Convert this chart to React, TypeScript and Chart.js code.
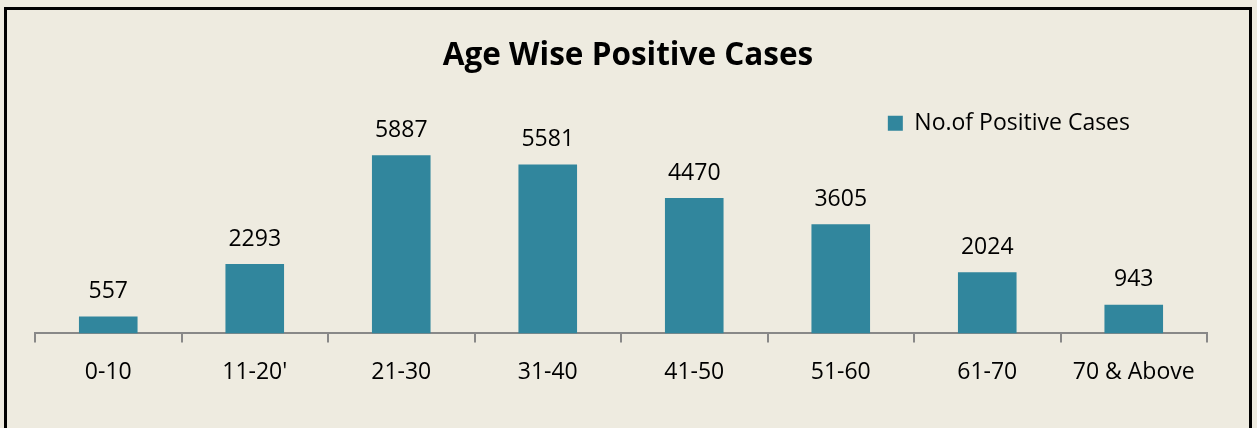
import React, { useEffect, useRef } from "react";
import { Chart, registerables } from "chart.js";

Chart.register(...registerables);

const categories = ["0-10", "11-20'", "21-30", "31-40", "41-50", "51-60", "61-70", "70 & Above"];
const positiveCases = [557, 2293, 5887, 5581, 4470, 3605, 2024, 943];
const seriesName = "No.of Positive Cases";
const chartTitle = "Age Wise Positive Cases";

const BG = "#EEEBE0";
const BAR = "#31869D";
const FONT = "'Open Sans', sans-serif";

const valueLabels = {
  id: "valueLabels",
  afterDatasetsDraw(chart: any) {
    const ctx = chart.ctx;
    const meta = chart.getDatasetMeta(0);
    ctx.save();
    ctx.font = `23px ${FONT}`;
    ctx.fillStyle = "#000";
    ctx.textAlign = "center";
    ctx.textBaseline = "middle";
    meta.data.forEach((bar: any, i: number) => {
      ctx.fillText(String(chart.data.datasets[0].data[i]), bar.x, bar.y - 25);
    });
    ctx.restore();
  },
};

const boxShift = {
  id: "boxShift",
  afterLayout(chart: any) {
    if (chart.legend) {
      chart.legend.right -= 67;
    }
    if (chart.titleBlock) {
      chart.titleBlock.left += 7;
      chart.titleBlock.right += 7;
    }
  },
};

export default function App() {
  const ref = useRef<HTMLCanvasElement>(null);
  useEffect(() => {
    const chart = new Chart(ref.current!, {
      type: "bar",
      data: {
        labels: categories,
        datasets: [
          {
            label: seriesName,
            data: positiveCases,
            backgroundColor: BAR,
            borderWidth: 0,
            barPercentage: 0.4,
            categoryPercentage: 1,
          },
        ],
      },
      options: {
        animation: false,
        responsive: false,
        layout: { padding: { left: 35, right: 50, top: 0, bottom: 26 } },
        plugins: {
          title: {
            display: true,
            text: chartTitle,
            color: "#000",
            font: { family: FONT, size: 31.5, weight: "bold", lineHeight: 1.2 },
            padding: { top: 37, bottom: 27 },
          },
          legend: {
            position: "top",
            align: "end",
            labels: {
              color: "#000",
              font: { family: FONT, size: 23 },
              boxWidth: 15,
              boxHeight: 15,
              padding: 10,
            },
          },
          tooltip: { enabled: false },
        },
        scales: {
          x: {
            grid: {
              offset: true,
              drawOnChartArea: false,
              drawTicks: true,
              tickLength: 9,
              color: "#888888",
              lineWidth: 2,
            },
            border: { display: true, color: "#888888", width: 2 },
            ticks: { color: "#000", font: { family: FONT, size: 23 }, padding: 16, maxRotation: 0 },
          },
          y: {
            display: false,
            min: 0,
            max: 6230,
          },
        },
      },
      plugins: [valueLabels, boxShift],
    });
    return () => chart.destroy();
  }, []);
  return (
    <div style={{ position: "fixed", left: 0, top: 0, width: 1257, height: 428, background: BG, overflow: "hidden" }}>
      <canvas ref={ref} width={1257} height={428} style={{ position: "absolute", left: 0, top: 0 }} />
      <div
        style={{
          position: "absolute",
          left: 4,
          top: 7,
          width: 1242,
          height: 440,
          border: "3px solid #000",
          pointerEvents: "none",
        }}
      />
    </div>
  );
}
